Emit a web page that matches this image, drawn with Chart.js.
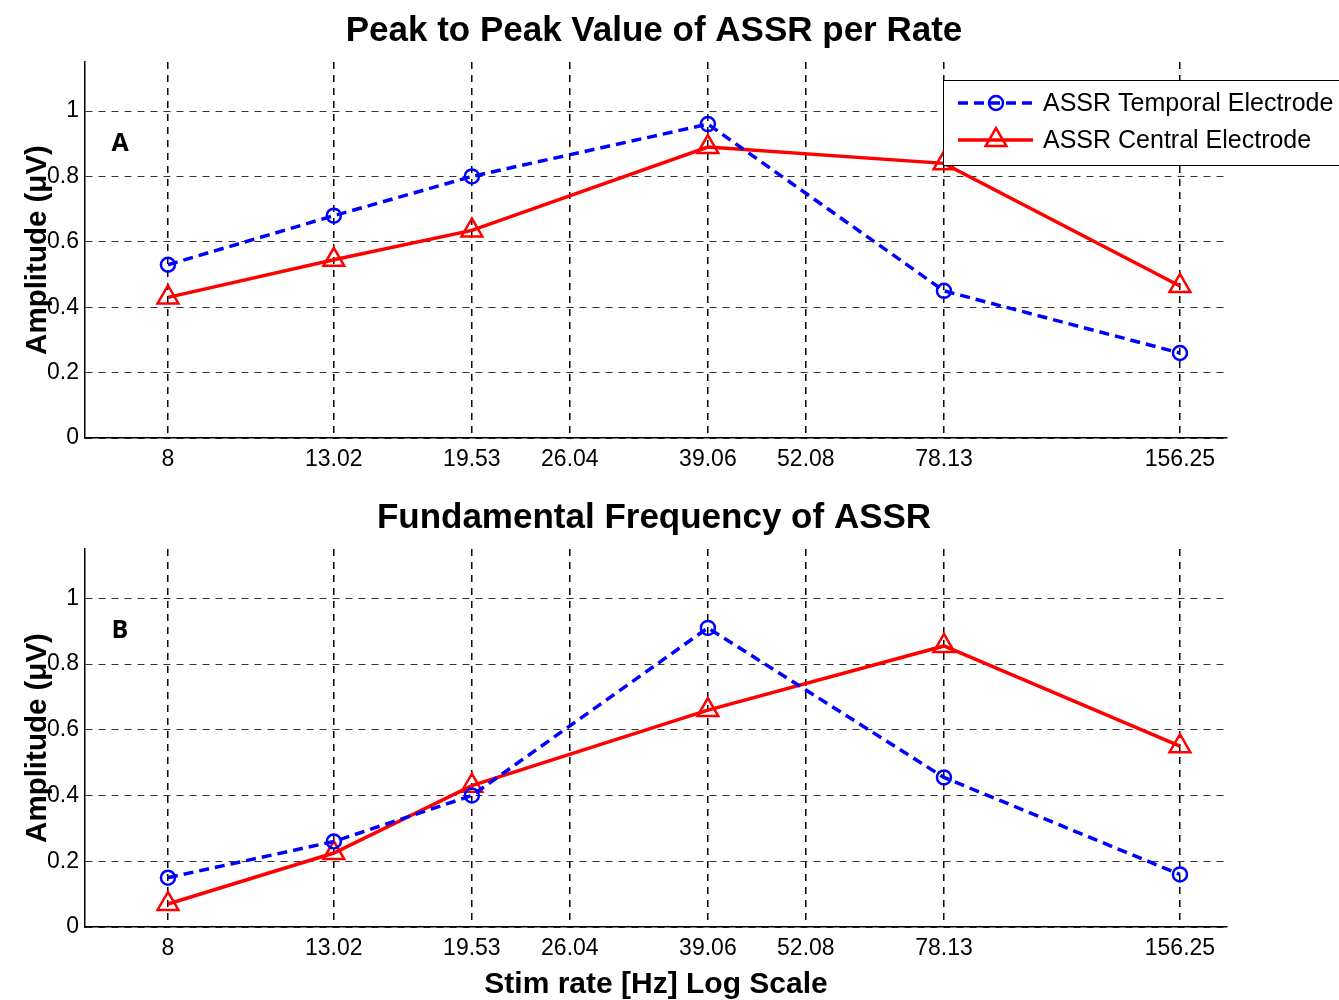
<!DOCTYPE html>
<html>
<head>
<meta charset="utf-8">
<script src="https://cdn.jsdelivr.net/npm/chart.js@4.4.1/dist/chart.umd.min.js"></script>
<style>
html,body{margin:0;padding:0;background:#fff;}
#wrap{position:relative;width:1339px;height:1000px;overflow:hidden;}
#c1{position:absolute;left:0;top:0;}
#c2{position:absolute;left:0;top:487px;}
</style>
</head>
<body>
<div id="wrap">
<canvas id="c1" width="1339" height="487"></canvas>
<canvas id="c2" width="1339" height="513"></canvas>
</div>
<script>
//=====================================================
// DATA
//=====================================================
const rates=[8,13.02,19.53,39.06,78.13,156.25];
const xTicks=[8,13.02,19.53,26.04,39.06,52.08,78.13,156.25];
const xTickLabels=["8","13.02","19.53","26.04","39.06","52.08","78.13","156.25"];
const yTicks=[0,0.2,0.4,0.6,0.8,1];
const yTickLabels=["0","0.2","0.4","0.6","0.8","1"];

const seriesNames=["ASSR Temporal Electrode","ASSR Central Electrode"];

// panel A: peak to peak
const p2pTemporal=[0.53,0.68,0.80,0.96,0.45,0.26];
const p2pCentral=[0.43,0.545,0.635,0.89,0.84,0.465];

// panel B: fundamental frequency
const f0Temporal=[0.15,0.26,0.40,0.91,0.455,0.16];
const f0Central=[0.07,0.225,0.43,0.66,0.855,0.55];

//=====================================================
// STYLE
//=====================================================
const FONT='"Liberation Sans", Arial, sans-serif';
const azul="#0000FF";
const rojo="#FF0000";

Chart.defaults.font.family=FONT;
Chart.defaults.color="#000";
Chart.defaults.animation=false;

function pts(ys){return rates.map((x,i)=>({x:x,y:ys[i]}));}

function datasets(temporal,central){
return [
{
label:seriesNames[0],
data:pts(temporal),
borderColor:azul,
borderWidth:3.5,
borderDash:[10,6],
pointStyle:"circle",
pointRadius:7,
pointBorderWidth:2.5,
pointBorderColor:azul,
pointBackgroundColor:"rgba(0,0,0,0)",
tension:0
},
{
label:seriesNames[1],
data:pts(central),
borderColor:rojo,
borderWidth:3.5,
pointStyle:"triangle",
pointRadius:12,
pointBorderWidth:2.5,
pointBorderColor:rojo,
pointBackgroundColor:"rgba(0,0,0,0)",
tension:0
}
];
}

//=====================================================
// TEXT OVERLAY (titles, letters, legend)
//=====================================================
const overlay={
id:"overlay",
afterDraw(chart,args,o){
const ctx=chart.ctx,a=chart.chartArea;
ctx.save();
ctx.fillStyle="#000";
ctx.textAlign="center";
ctx.textBaseline="middle";
ctx.font="bold 35px "+FONT;
ctx.fillText(o.title,(a.left+a.right)/2-2,a.top-31);

ctx.font="bold 25px \"Open Sans\", sans-serif";
ctx.fillText(o.letter,a.left+35,a.top+82);

if(o.xTitle){
ctx.font="bold 30px "+FONT;
ctx.fillText(o.xTitle,(a.left+a.right)/2,a.bottom+58);
}

ctx.save();
ctx.translate(38,(a.top+a.bottom)/2);
ctx.rotate(-Math.PI/2);
ctx.font="bold 29.5px "+FONT;
ctx.fillText("Amplitude (μV)",0,0);
ctx.restore();

if(o.legend){
ctx.fillStyle="#fff";
ctx.fillRect(943,80,420,85);
ctx.strokeStyle="#000";
ctx.lineWidth=1;
ctx.strokeRect(943.5,80.5,420,85);
const rows=[103,140];
chart.data.datasets.forEach((ds,i)=>{
const y=rows[i];
ctx.save();
ctx.strokeStyle=ds.borderColor;
ctx.lineWidth=ds.borderWidth;
ctx.setLineDash(ds.borderDash||[]);
ctx.beginPath();ctx.moveTo(958,y);ctx.lineTo(1033,y);ctx.stroke();
ctx.setLineDash([]);
ctx.fillStyle="rgba(0,0,0,0)";
ctx.lineWidth=ds.pointBorderWidth;
ctx.strokeStyle=ds.pointBorderColor;
Chart.helpers.drawPoint(ctx,{pointStyle:ds.pointStyle,radius:ds.pointRadius,borderWidth:ds.pointBorderWidth,rotation:0},996,y);
ctx.restore();
ctx.fillStyle="#000";
ctx.textAlign="left";
ctx.font="25px "+FONT;
ctx.fillText(ds.label,1043,y+1);
});
}
ctx.restore();
}
};

//=====================================================
// CHART FACTORY
//=====================================================
function makeChart(id,temporal,central,opts,xHeight){
return new Chart(document.getElementById(id),{
type:"line",
data:{datasets:datasets(temporal,central)},
plugins:[overlay],
options:{
responsive:false,
layout:{padding:{left:0,right:112,top:62,bottom:0}},
plugins:{
legend:{display:false},
tooltip:{enabled:false},
overlay:opts
},
scales:{
x:{
type:"logarithmic",
min:6.27,
max:179.4,
afterBuildTicks:(s)=>{s.ticks=xTicks.map(v=>({value:v}));},
afterFit:(s)=>{s.height=xHeight;},
ticks:{
autoSkip:false,
maxRotation:0,
padding:8,
font:{size:23},
color:"#000",
callback:(v,i)=>xTickLabels[i]
},
grid:{color:"#000",lineWidth:1.5,drawTicks:false},
border:{display:true,color:"#000",width:1.5,dash:[7,6]}
},
y:{
min:0,
max:1.15,
afterBuildTicks:(s)=>{s.ticks=yTicks.map(v=>({value:v}));},
afterFit:(s)=>{s.width=85;},
ticks:{
padding:6,
font:{size:23},
color:"#000",
callback:(v,i)=>yTickLabels[i]
},
grid:{color:"#333",lineWidth:1,drawTicks:false},
border:{display:true,color:"#000",width:1.5,dash:[7,6]}
}
}
}
});
}

makeChart("c1",p2pTemporal,p2pCentral,{title:"Peak to Peak Value of ASSR per Rate",letter:"A",legend:true},49);
makeChart("c2",f0Temporal,f0Central,{title:"Fundamental Frequency of ASSR",letter:"B",xTitle:"Stim rate [Hz] Log Scale"},73);
</script>
</body>
</html>
